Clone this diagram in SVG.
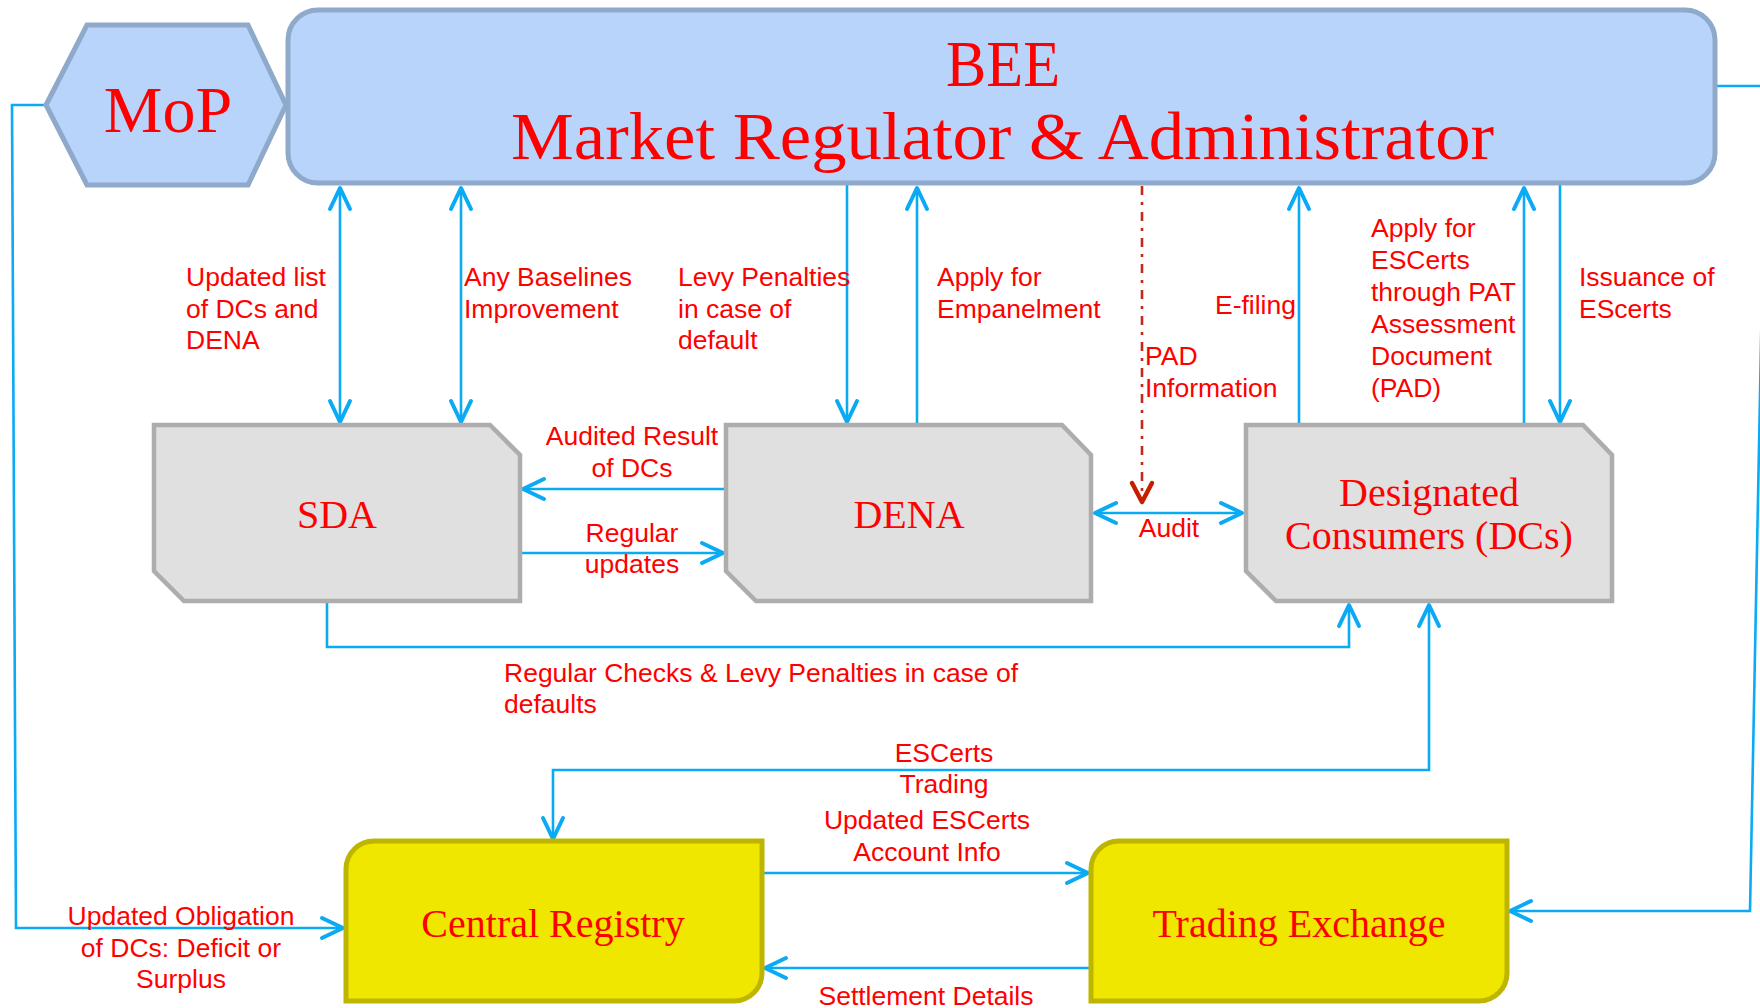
<svg xmlns="http://www.w3.org/2000/svg" width="1760" height="1008" viewBox="0 0 1760 1008">
  <style>
    .bee { fill: #B8D4FB; stroke: #8FA9CB; stroke-width: 5; }
    .grey { fill: #E0E0E0; stroke: #ADADAD; stroke-width: 4.5; }
    .yellow { fill: #EFE700; stroke: #BDB500; stroke-width: 5; }
    .title { font-family: "Liberation Serif", "Times New Roman", serif; fill: #FF0000; }
    .lbl { font-family: "Liberation Sans", Arial, sans-serif; font-size: 26.5px; fill: #FF0000; }
    .mid { text-anchor: middle; }
    .wire { fill: none; stroke: #0AAAF5; stroke-width: 2.6; }
    .pad { fill: none; stroke: #C42A1C; stroke-width: 2.6; stroke-dasharray: 9 7 3 7; }
  </style>
  <defs>
    <marker id="arrow" markerUnits="userSpaceOnUse" viewBox="-26 -14 30 28" refX="0" refY="0" markerWidth="30" markerHeight="28" orient="auto-start-reverse">
      <path d="M-21,-10 L0,0 L-21,10" fill="none" stroke="#0AAAF5" stroke-width="4" stroke-linecap="round" stroke-linejoin="round"/>
    </marker>
    <marker id="arrowRed" markerUnits="userSpaceOnUse" viewBox="-26 -14 30 28" refX="0" refY="0" markerWidth="30" markerHeight="28" orient="auto">
      <path d="M-19,-10 L0,0 L-19,10" fill="none" stroke="#C42000" stroke-width="4.5" stroke-linecap="round" stroke-linejoin="round"/>
    </marker>
  </defs>

  <rect width="1760" height="1008" fill="#FFFFFF"/>

  <!-- connectors -->
  <g id="connectors">
    <path class="wire" d="M340,188 V422" marker-start="url(#arrow)" marker-end="url(#arrow)"/>
    <path class="wire" d="M461,188 V422" marker-start="url(#arrow)" marker-end="url(#arrow)"/>
    <path class="wire" d="M847,185 V422" marker-end="url(#arrow)"/>
    <path class="wire" d="M917,425 V188" marker-end="url(#arrow)"/>
    <path class="pad" d="M1142,186 V502" marker-end="url(#arrowRed)"/>
    <path class="wire" d="M1095,513 H1242" marker-start="url(#arrow)" marker-end="url(#arrow)"/>
    <path class="wire" d="M1299,425 V188" marker-end="url(#arrow)"/>
    <path class="wire" d="M1524,425 V188" marker-end="url(#arrow)"/>
    <path class="wire" d="M1560,185 V422" marker-end="url(#arrow)"/>
    <path class="wire" d="M726,489 H523" marker-end="url(#arrow)"/>
    <path class="wire" d="M520,553 H723" marker-end="url(#arrow)"/>
    <path class="wire" d="M327,603 V647 H1349 V605" marker-end="url(#arrow)"/>
    <path class="wire" d="M1429,605 V770 H553 V839" marker-start="url(#arrow)" marker-end="url(#arrow)"/>
    <path class="wire" d="M762,873 H1088" marker-end="url(#arrow)"/>
    <path class="wire" d="M1091,968 H765" marker-end="url(#arrow)"/>
    <path class="wire" d="M46,105 H12 L16,928 H343" marker-end="url(#arrow)"/>
    <path class="wire" d="M1716,86 H1766 L1750,911 H1510" marker-end="url(#arrow)"/>
  </g>

  <!-- MoP -->
  <g id="mop">
    <polygon class="bee" points="46,105 87,25 248,25 286,105 248,185 87,185"/>
    <text class="title mid" x="168" y="132" font-size="66">MoP</text>
  </g>

  <!-- BEE -->
  <g id="bee">
    <rect class="bee" x="288" y="10" width="1427" height="173" rx="30" ry="30"/>
    <text class="title mid" x="1003" y="86" font-size="66" textLength="114" lengthAdjust="spacingAndGlyphs">BEE</text>
    <text class="title mid" x="1002.5" y="159" font-size="67" textLength="983" lengthAdjust="spacingAndGlyphs">Market Regulator &amp; Administrator</text>
  </g>

  <!-- SDA -->
  <g id="sda">
    <path class="grey" d="M154,425 H490 L520,455 V601 H184 L154,571 Z"/>
    <text class="title mid" x="337" y="528" font-size="40">SDA</text>
  </g>

  <!-- DENA -->
  <g id="dena">
    <path class="grey" d="M726,425 H1062 L1091,455 V601 H756 L726,571 Z"/>
    <text class="title mid" x="909" y="528" font-size="40">DENA</text>
  </g>

  <!-- Designated Consumers -->
  <g id="dcs">
    <path class="grey" d="M1246,425 H1583 L1612,455 V601 H1276 L1246,571 Z"/>
    <text class="title mid" x="1429" y="506" font-size="40">Designated</text>
    <text class="title mid" x="1429" y="549" font-size="40">Consumers (DCs)</text>
  </g>

  <!-- Central Registry -->
  <g id="central-registry">
    <path class="yellow" d="M346,1001 V869 A28,28 0 0 1 374,841 H762 V973 A28,28 0 0 1 734,1001 Z"/>
    <text class="title mid" x="553" y="937" font-size="40">Central Registry</text>
  </g>

  <!-- Trading Exchange -->
  <g id="trading-exchange">
    <path class="yellow" d="M1091,1001 V869 A28,28 0 0 1 1119,841 H1507 V973 A28,28 0 0 1 1479,1001 Z"/>
    <text class="title mid" x="1299" y="937" font-size="40">Trading Exchange</text>
  </g>

  <!-- connector labels -->
  <g id="labels">
    <text class="lbl" x="186" y="286">Updated list</text>
    <text class="lbl" x="186" y="317.7">of DCs and</text>
    <text class="lbl" x="186" y="349.4">DENA</text>

    <text class="lbl" x="464" y="286">Any Baselines</text>
    <text class="lbl" x="464" y="317.7">Improvement</text>

    <text class="lbl" x="678" y="286">Levy Penalties</text>
    <text class="lbl" x="678" y="317.7">in case of</text>
    <text class="lbl" x="678" y="349.4">default</text>

    <text class="lbl" x="937" y="286">Apply for</text>
    <text class="lbl" x="937" y="317.7">Empanelment</text>

    <text class="lbl" x="1145" y="365">PAD</text>
    <text class="lbl" x="1145" y="396.7">Information</text>

    <text class="lbl" x="1296" y="313.5" text-anchor="end">E-filing</text>

    <text class="lbl" x="1371" y="237.3">Apply for</text>
    <text class="lbl" x="1371" y="269.2">ESCerts</text>
    <text class="lbl" x="1371" y="301">through PAT</text>
    <text class="lbl" x="1371" y="332.8">Assessment</text>
    <text class="lbl" x="1371" y="364.7">Document</text>
    <text class="lbl" x="1371" y="396.6">(PAD)</text>

    <text class="lbl" x="1579" y="286">Issuance of</text>
    <text class="lbl" x="1579" y="317.7">EScerts</text>

    <text class="lbl mid" x="632" y="445">Audited Result</text>
    <text class="lbl mid" x="632" y="476.7">of DCs</text>

    <text class="lbl mid" x="632" y="541.7">Regular</text>
    <text class="lbl mid" x="632" y="573">updates</text>

    <text class="lbl mid" x="1169" y="537">Audit</text>

    <text class="lbl" x="504" y="681.7">Regular Checks &amp; Levy Penalties in case of</text>
    <text class="lbl" x="504" y="713.4">defaults</text>

    <text class="lbl mid" x="944" y="761.7">ESCerts</text>
    <text class="lbl mid" x="944" y="793.4">Trading</text>

    <text class="lbl mid" x="927" y="829.3">Updated ESCerts</text>
    <text class="lbl mid" x="927" y="861">Account Info</text>

    <text class="lbl mid" x="926" y="1005">Settlement Details</text>

    <text class="lbl mid" x="181" y="925">Updated Obligation</text>
    <text class="lbl mid" x="181" y="956.7">of DCs: Deficit or</text>
    <text class="lbl mid" x="181" y="988.4">Surplus</text>
  </g>
</svg>
